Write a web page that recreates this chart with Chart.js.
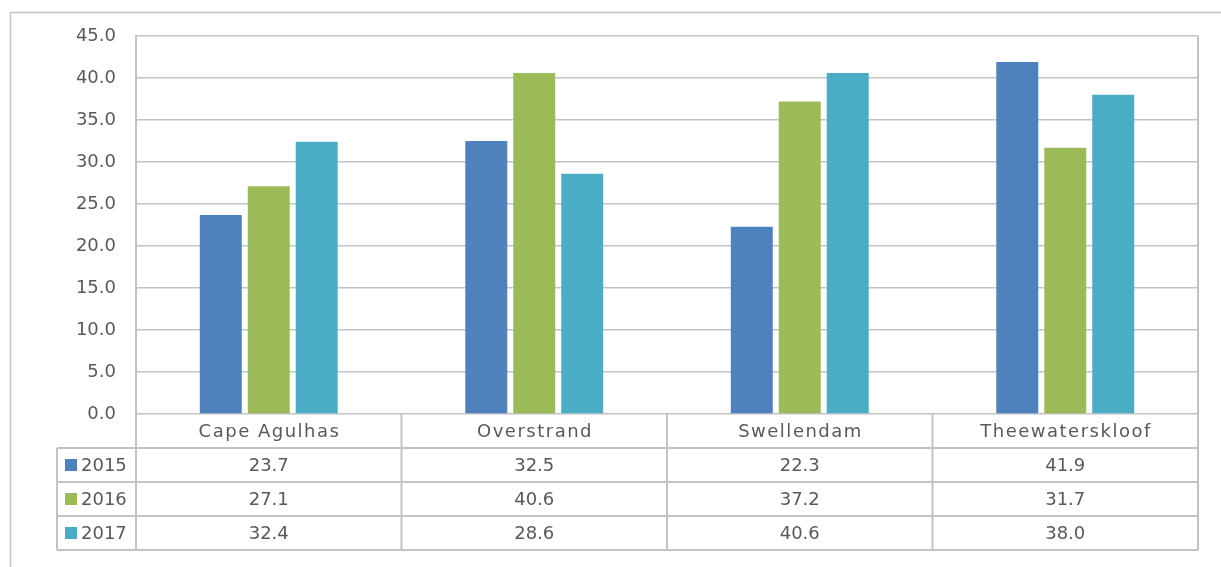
<!DOCTYPE html>
<html>
<head>
<meta charset="utf-8">
<script src="https://cdn.jsdelivr.net/npm/chart.js@4.4.0/dist/chart.umd.min.js"></script>
<style>
  html, body { margin: 0; padding: 0; background: #ffffff; }
  #wrap { position: relative; width: 1221px; height: 567px; }
</style>
</head>
<body>
<div id="wrap"><canvas id="c" width="1221" height="567"></canvas></div>
<script>
const categories = ['Cape Agulhas', 'Overstrand', 'Swellendam', 'Theewaterskloof'];
const seriesNames = ['2015', '2016', '2017'];
const values2015 = [23.7, 32.5, 22.3, 41.9];
const values2016 = [27.1, 40.6, 37.2, 31.7];
const values2017 = [32.4, 28.6, 40.6, 38.0];
const seriesColors = ['#4f81bd', '#9bbb59', '#4bacc6'];
const yTicks = [0, 5, 10, 15, 20, 25, 30, 35, 40, 45];

const FONT = '"DejaVu Sans", sans-serif';
const TEXT = '#595959';
const LINE = '#c3c3c3';

const allValues = [values2015, values2016, values2017];

const tablePlugin = {
  id: 'dataTable',
  beforeDraw(chart) {
    const ctx = chart.ctx;
    ctx.save();
    ctx.strokeStyle = LINE;
    ctx.lineWidth = 1.5;
    ctx.beginPath();
    ctx.moveTo(10.5, 567);
    ctx.lineTo(10.5, 12.5);
    ctx.lineTo(1221, 12.5);
    ctx.stroke();
    ctx.restore();
  },
  afterDraw(chart) {
    const ctx = chart.ctx;
    const area = chart.chartArea;
    const xs = chart.scales.x;
    const n = categories.length;
    const half = (xs.getPixelForValue(1) - xs.getPixelForValue(0)) / 2;
    const edges = [];
    for (let i = 0; i < n; i++) edges.push(xs.getPixelForValue(i) - half);
    edges.push(xs.getPixelForValue(n - 1) + half);
    const top = area.bottom;
    const headerH = 34;
    const rowH = 34;
    const legendLeft = 57;
    const bottom = top + headerH + rowH * seriesNames.length;

    ctx.save();
    ctx.strokeStyle = LINE;
    ctx.lineWidth = 2;
    ctx.beginPath();
    ctx.moveTo(area.right, area.top);
    ctx.lineTo(area.right, area.bottom);
    edges.forEach(x => { ctx.moveTo(x, top); ctx.lineTo(x, bottom); });
    for (let r = 0; r <= seriesNames.length; r++) {
      const y = top + headerH + r * rowH;
      ctx.moveTo(legendLeft, y);
      ctx.lineTo(edges[n], y);
    }
    ctx.moveTo(legendLeft, top + headerH);
    ctx.lineTo(legendLeft, bottom);
    ctx.stroke();

    ctx.fillStyle = TEXT;
    ctx.font = '18px ' + FONT;
    ctx.textAlign = 'center';
    ctx.textBaseline = 'middle';
    ctx.letterSpacing = '1.5px';
    categories.forEach((c, i) => {
      ctx.fillText(c, xs.getPixelForValue(i) + 0.75, top + headerH / 2 + 1);
    });
    ctx.letterSpacing = '0px';
    seriesNames.forEach((s, r) => {
      const cy = top + headerH + r * rowH + rowH / 2;
      ctx.fillStyle = seriesColors[r];
      ctx.fillRect(65, cy - 6, 12, 12);
      ctx.fillStyle = TEXT;
      ctx.textAlign = 'left';
      ctx.fillText(s, 81, cy + 1);
      ctx.textAlign = 'center';
      allValues[r].forEach((v, i) => {
        ctx.fillText(v.toFixed(1), xs.getPixelForValue(i), cy + 1);
      });
    });
    ctx.restore();
  }
};

const ctx = document.getElementById('c').getContext('2d');
new Chart(ctx, {
  type: 'bar',
  data: {
    labels: categories,
    datasets: seriesNames.map((name, i) => ({
      label: name,
      data: allValues[i],
      backgroundColor: seriesColors[i],
      borderWidth: 0,
      categoryPercentage: 0.542,
      barPercentage: 0.875
    }))
  },
  options: {
    responsive: false,
    animation: false,
    layout: { padding: { left: 0, right: 23, top: 36, bottom: 153 } },
    plugins: { legend: { display: false }, tooltip: { enabled: false } },
    scales: {
      x: { display: false },
      y: {
        min: 0,
        max: 45,
        afterBuildTicks(scale) { scale.ticks = yTicks.map(v => ({ value: v })); },
        afterFit(scale) { scale.width = 136; },
        grid: { color: LINE, lineWidth: 1.5, drawTicks: false },
        border: { color: LINE, width: 2 },
        ticks: {
          padding: 20,
          color: TEXT,
          font: { family: FONT, size: 18 },
          callback: v => Number(v).toFixed(1)
        }
      }
    }
  },
  plugins: [tablePlugin]
});
</script>
</body>
</html>
